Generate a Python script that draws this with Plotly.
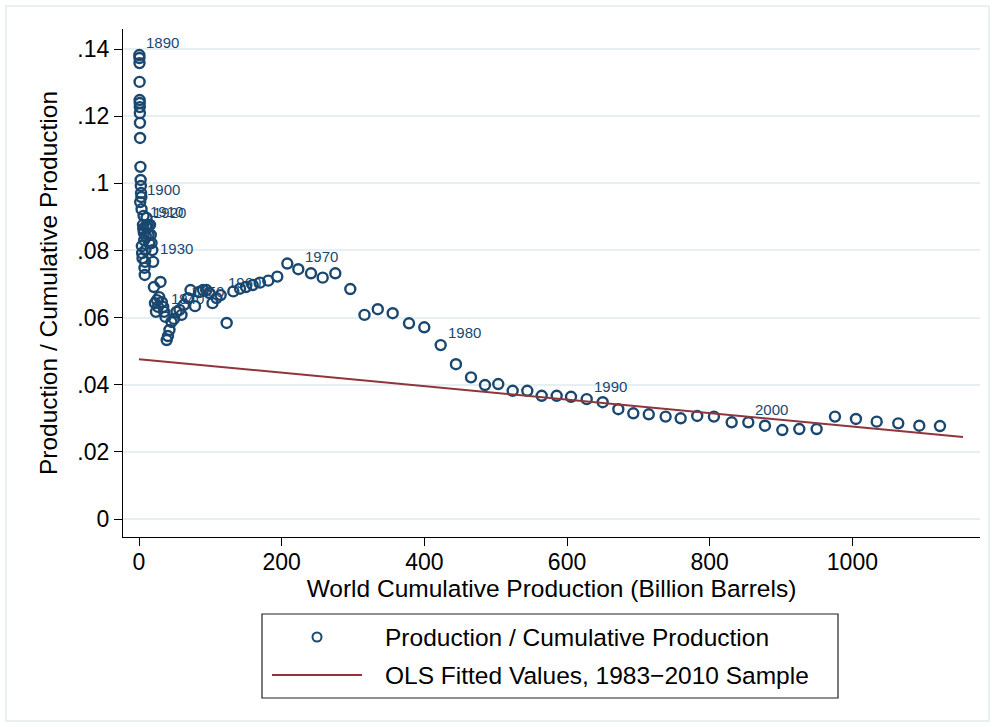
import plotly.graph_objects as go

# ---------------- data ----------------
years = list(range(1890, 2011))

# World cumulative production (billion barrels)
cum = [
    0.5, 0.6, 0.7, 0.8, 0.9, 1.0, 1.1, 1.2, 1.35, 1.5,            # 1890s
    1.7, 2.0, 2.3, 2.6, 2.9, 3.3, 3.6, 4.0, 4.4, 4.9,              # 1900s
    5.6, 6.0, 6.4, 6.8, 7.3, 7.7, 8.1, 8.5, 9.0, 9.4,              # 1910s
    9.8, 10.6, 11.4, 12.3, 13.3, 14.3, 15.4, 16.5, 17.6, 18.7,     # 1920s
    19.8, 20.9, 22.4, 23.8, 25.2, 26.6, 28.3, 30.1, 32.0, 33.9,    # 1930s
    35.3, 37.1, 38.8, 40.6, 42.7, 45.5, 49.1, 52.6, 56.8, 59.6,    # 1940s
    63.1, 68.7, 72.2, 78.5, 84.1, 89.7, 94.6, 98.8, 103.0, 108.6,  # 1950s
    114.5, 122.9, 132.2, 141.6, 150.0, 159.4, 169.6, 181.2, 193.9, 207.9,  # 1960s
    223.3, 241.1, 257.5, 275.2, 296.2, 316.1, 334.7, 355.6, 378.5, 399.9,  # 1970s
    422.9, 444.3, 465.4, 485.0, 503.6, 523.8, 544.3, 564.5, 585.5, 605.6,  # 1980s
    627.6, 650.0, 671.9, 692.9, 714.6, 738.2, 759.3, 782.5, 805.9, 830.8,  # 1990s
    854.1, 877.5, 901.8, 925.6, 949.9, 975.6, 1005.0, 1034.1, 1064.3, 1093.8,  # 2000s
    1122.8,                                                         # 2010
]

# Production / cumulative production
ratio = [
    0.1382, 0.1373, 0.1358, 0.1302, 0.1248, 0.1239, 0.1227, 0.1209, 0.1180, 0.1135,
    0.0944, 0.1049, 0.1010, 0.0992, 0.0971, 0.0959, 0.0923, 0.0813, 0.0792, 0.0777,
    0.0876, 0.0864, 0.0903, 0.0852, 0.0831, 0.0748, 0.0727, 0.0766, 0.0801, 0.0843,
    0.0873, 0.0897, 0.0867, 0.0876, 0.0846, 0.0822, 0.0876, 0.0846, 0.0822, 0.0801,
    0.0766, 0.0691, 0.0643, 0.0617, 0.0652, 0.0632, 0.0661, 0.0706, 0.0646, 0.0632,
    0.0617, 0.0602, 0.0533, 0.0545, 0.0563, 0.0587, 0.0596, 0.0617, 0.0623, 0.0608,
    0.0638, 0.0658, 0.0682, 0.0634, 0.0676, 0.0682, 0.0682, 0.0673, 0.0643, 0.0658,
    0.0667, 0.0584, 0.0678, 0.0686, 0.0691, 0.0697, 0.0704, 0.0710, 0.0722, 0.0761,
    0.0744, 0.0732, 0.0719, 0.0732, 0.0685, 0.0608, 0.0625, 0.0613, 0.0583, 0.0571,
    0.0518, 0.0461, 0.0422, 0.0399, 0.0402, 0.0382, 0.0382, 0.0367, 0.0367, 0.0364,
    0.0357, 0.0348, 0.0327, 0.0315, 0.0312, 0.0305, 0.0300, 0.0307, 0.0305, 0.0288,
    0.0288, 0.0278, 0.0265, 0.0268, 0.0268, 0.0305, 0.0298, 0.0290, 0.0285, 0.0278,
    0.0277,
]

label_years = [1890, 1900, 1910, 1920, 1930, 1940, 1950, 1960, 1970, 1980, 1990, 2000]

# OLS fitted values (1983-2010 sample), end points of the drawn line
fit_x = [0, 1155]
fit_y = [0.0476, 0.0244]

x_ticks = [0, 200, 400, 600, 800, 1000]
y_ticks = [0, 0.02, 0.04, 0.06, 0.08, 0.10, 0.12, 0.14]
y_ticktext = ["0", ".02", ".04", ".06", ".08", ".1", ".12", ".14"]

series_names = ["Production / Cumulative Production",
                "OLS Fitted Values, 1983\u22122010 Sample"]

# ---------------- style ----------------
NAVY = "#1a476f"
MAROON = "#90353b"
GRID = "#e6eff1"
FONT = "Liberation Sans, Arial, Helvetica, sans-serif"

W, H = 995, 727
ML, MR, MT, MB = 123, 15, 29, 190
PW, PH = W - ML - MR, H - MT - MB


def px(xp):
    return (xp - ML) / PW


def py(yp):
    return (H - MB - yp) / PH


fig = go.Figure()
fig.add_trace(go.Scatter(
    x=cum, y=ratio, mode="markers",
    marker=dict(symbol="circle-open", size=10, color=NAVY,
                line=dict(width=2.4, color=NAVY)),
    name=series_names[0], showlegend=False, cliponaxis=False,
))
fig.add_trace(go.Scatter(
    x=fit_x, y=fit_y, mode="lines",
    line=dict(color=MAROON, width=2),
    name=series_names[1], showlegend=False,
))

shapes = []
annotations = []

# marker labels (decade years), placed at their points
for yr, xv, yv in zip(years, cum, ratio):
    if yr in label_years:
        annotations.append(dict(x=xv, y=yv, xref="x", yref="y", text=str(yr),
                                showarrow=False, xanchor="left", yanchor="middle",
                                xshift=5, yshift=13,
                                font=dict(size=15, color=NAVY, family=FONT)))

# outer frame
shapes.append(dict(type="rect", xref="paper", yref="paper",
                   x0=px(6), x1=px(989), y0=py(721), y1=py(6),
                   line=dict(color="#e4eaec", width=1.5), layer="below"))

# custom legend
lx0, lx1, ly0, ly1 = 262, 838, 614, 698
shapes.append(dict(type="rect", xref="paper", yref="paper",
                   x0=px(lx0), x1=px(lx1), y0=py(ly1), y1=py(ly0),
                   line=dict(color="#222222", width=1.2), fillcolor="white"))
row1, row2 = 637, 675
kx = 317
shapes.append(dict(type="circle", xref="paper", yref="paper",
                   x0=px(kx - 4.5), x1=px(kx + 4.5), y0=py(row1 + 4.5), y1=py(row1 - 4.5),
                   line=dict(color=NAVY, width=2)))
shapes.append(dict(type="line", xref="paper", yref="paper",
                   x0=px(272), x1=px(362), y0=py(row2), y1=py(row2),
                   line=dict(color=MAROON, width=2)))
for name, r in zip(series_names, [row1, row2]):
    annotations.append(dict(xref="paper", yref="paper", x=px(383), y=py(r),
                            xanchor="left", yanchor="middle", showarrow=False,
                            text=name, font=dict(size=24.5, color="black", family=FONT)))

fig.update_layout(
    width=W, height=H,
    margin=dict(l=ML, r=MR, t=MT, b=MB, autoexpand=False),
    paper_bgcolor="white", plot_bgcolor="white",
    font=dict(family=FONT, size=23, color="black"),
    showlegend=False,
    shapes=shapes, annotations=annotations,
    xaxis=dict(
        range=[-22.43, 1178.9], tickvals=x_ticks,
        ticks="outside", ticklen=8, tickwidth=1, tickcolor="black",
        showline=True, linecolor="black", linewidth=1.2,
        showgrid=False, zeroline=False,
        tickfont=dict(size=23), ticklabelstandoff=-4,
        title=dict(text="World Cumulative Production (Billion Barrels)",
                   font=dict(size=24.5), standoff=2),
    ),
    yaxis=dict(
        range=[-0.00536, 0.14596], tickvals=y_ticks, ticktext=y_ticktext,
        ticks="outside", ticklen=8, tickwidth=1, tickcolor="black",
        showline=True, linecolor="black", linewidth=1.2,
        showgrid=True, gridcolor=GRID, gridwidth=1.5, zeroline=False,
        tickfont=dict(size=23),
        title=dict(text="Production / Cumulative Production",
                   font=dict(size=24.5), standoff=12),
    ),
)

fig.write_html("out.html")
